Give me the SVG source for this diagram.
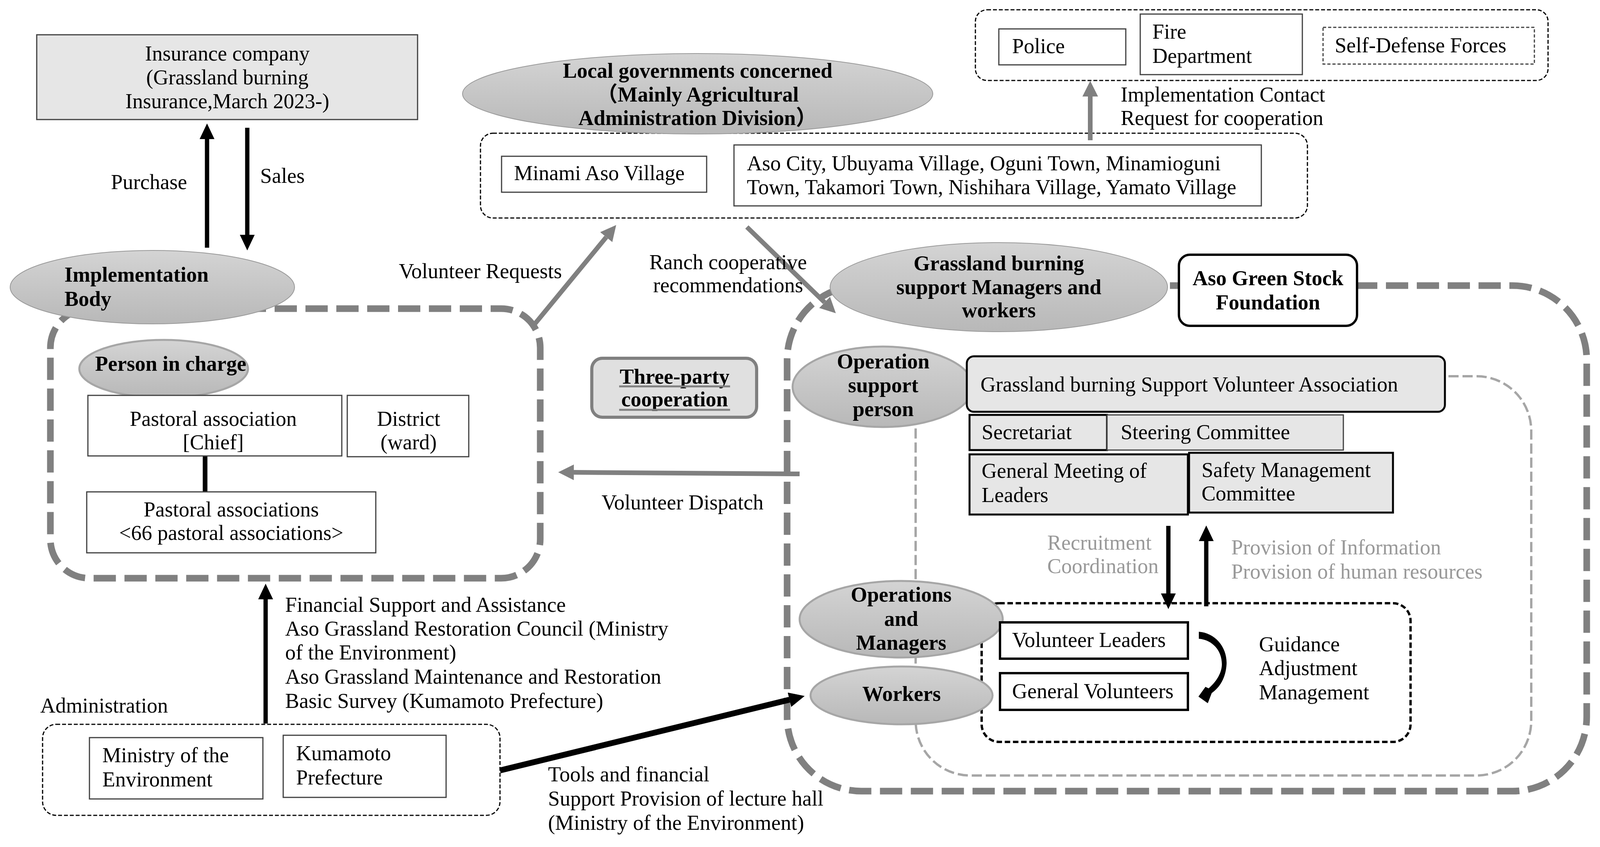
<svg xmlns="http://www.w3.org/2000/svg" width="4110" height="2168" viewBox="0 0 4110 2168">
<style>
text{font-family:"Liberation Serif","Noto Sans CJK JP",serif;font-size:54px;fill:#000}
.b{font-weight:bold}
.m{text-anchor:middle}
.g{fill:#999}
.box{fill:#fff;stroke:#404040;stroke-width:3}
.gbox{fill:#e6e6e6;stroke:#404040;stroke-width:3}
.kbox{fill:#e6e6e6;stroke:#000;stroke-width:5}
.wk{fill:#fff;stroke:#000;stroke-width:6}
.bigdash{fill:none;stroke:#808080;stroke-width:17;stroke-dasharray:57 22}
.thindash{fill:none;stroke:#000;stroke-width:3;stroke-dasharray:10 5}
.voldash{fill:none;stroke:#000;stroke-width:6;stroke-dasharray:14 7}
.lightdash{fill:none;stroke:#a6a6a6;stroke-width:6;stroke-dasharray:26 10}
.ell{fill:url(#eg);stroke:#a6a6a6;stroke-width:5}
.ell2{fill:url(#eg);stroke:#999;stroke-width:2}
.ka{stroke:#000;stroke-width:11;fill:none}
.ga{stroke:#808080;stroke-width:12;fill:none}
</style>
<defs>
<linearGradient id="eg" x1="0" y1="0" x2="0" y2="1">
<stop offset="0" stop-color="#d4d4d4"/>
<stop offset="1" stop-color="#b8b8b8"/>
</linearGradient>
<marker id="ak" markerUnits="userSpaceOnUse" markerWidth="40" markerHeight="38" refX="0" refY="19" orient="auto"><path d="M0,0 L40,19 L0,38 z" fill="#000"/></marker>
<marker id="ag" markerUnits="userSpaceOnUse" markerWidth="40" markerHeight="40" refX="0" refY="20" orient="auto"><path d="M0,0 L40,20 L0,40 z" fill="#808080"/></marker>
</defs>

<g id="containers">
<rect id="left-area" class="bigdash" x="129" y="790" width="1254" height="690" rx="100"/>
<rect id="right-area" class="bigdash" x="2015" y="731" width="2047" height="1294" rx="190"/>
<rect id="light-area" class="lightdash" x="2344" y="963" width="1576" height="1022" rx="140"/>
<rect id="municipalities" class="thindash" x="1230" y="341" width="2117" height="217" rx="32"/>
<rect id="agencies" class="thindash" x="2497" y="25" width="1466" height="181" rx="30"/>
<rect id="admin-area" class="thindash" x="109" y="1854" width="1171" height="233" rx="35"/>
<rect id="volunteer-area" class="voldash" x="2513" y="1544" width="1098" height="355" rx="45"/>
</g>

<g id="connectors">
<line class="ka" x1="530" y1="634" x2="530" y2="356" marker-end="url(#ak)"/>
<line class="ka" x1="633" y1="327" x2="633" y2="601" marker-end="url(#ak)"/>
<line class="ga" x1="1370" y1="828" x2="1552" y2="607" marker-end="url(#ag)"/>
<line class="ga" x1="1912" y1="581" x2="2111" y2="774" marker-end="url(#ag)"/>
<line class="ga" x1="2791" y1="359" x2="2791" y2="247" marker-end="url(#ag)"/>
<line class="ga" x1="2047" y1="1213" x2="1469" y2="1209" marker-end="url(#ag)"/>
<line class="ka" x1="680" y1="1852" x2="680" y2="1534" marker-end="url(#ak)"/>
<line stroke="#000" stroke-width="15" x1="1280" y1="1972" x2="2021" y2="1791" marker-end="url(#ak)"/>
<line class="ka" stroke-width="10" x1="2991" y1="1346" x2="2991" y2="1519" marker-end="url(#ak)"/>
<line class="ka" stroke-width="10" x1="3088" y1="1552" x2="3088" y2="1385" marker-end="url(#ak)"/>
<line stroke="#000" stroke-width="12" x1="525" y1="1167" x2="525" y2="1259"/>
<path d="M3069 1617 C3112 1620 3142 1658 3140 1700 C3138 1736 3122 1760 3102 1774 L3092 1800 L3068 1783 L3086 1758 L3094 1762 C3114 1745 3128 1722 3128 1700 C3128 1665 3104 1638 3069 1635 Z" fill="#000"/>
</g>

<g id="insurance">
<rect class="gbox" x="94" y="89" width="975" height="217"/>
<text class="m" x="582" y="155">Insurance company</text>
<text class="m" x="582" y="216">(Grassland burning</text>
<text class="m" x="582" y="277">Insurance,March 2023-)</text>
</g>

<g id="labels">
<text x="284" y="484">Purchase</text>
<text x="666" y="468">Sales</text>
<text x="1021" y="712">Volunteer Requests</text>
<text class="m" x="1864" y="689">Ranch cooperative</text>
<text class="m" x="1864" y="748">recommendations</text>
<text x="2869" y="260">Implementation Contact</text>
<text x="2869" y="320">Request for cooperation</text>
<text x="1540" y="1304">Volunteer Dispatch</text>
<text x="730" y="1566">Financial Support and Assistance</text>
<text x="730" y="1627">Aso Grassland Restoration Council (Ministry</text>
<text x="730" y="1688">of the Environment)</text>
<text x="730" y="1750">Aso Grassland Maintenance and Restoration</text>
<text x="730" y="1812">Basic Survey (Kumamoto Prefecture)</text>
<text x="103" y="1824">Administration</text>
<text x="1403" y="2000">Tools and financial</text>
<text x="1403" y="2062">Support Provision of lecture hall</text>
<text x="1403" y="2124">(Ministry of the Environment)</text>
<text class="g" x="2681" y="1407">Recruitment</text>
<text class="g" x="2681" y="1467">Coordination</text>
<text class="g" x="3152" y="1419">Provision of Information</text>
<text class="g" x="3152" y="1481">Provision of human resources</text>
<text x="3223" y="1667">Guidance</text>
<text x="3223" y="1728">Adjustment</text>
<text x="3223" y="1790">Management</text>
</g>

<g id="implementation-body">
<ellipse class="ell2" cx="390" cy="735" rx="364" ry="94"/>
<text class="b" x="165" y="721">Implementation</text>
<text class="b" x="165" y="783">Body</text>
</g>

<g id="person-in-charge">
<ellipse class="ell" cx="419" cy="944" rx="216" ry="74"/>
<text class="b m" x="437" y="949">Person in charge</text>
</g>

<g id="pastoral-chief">
<rect class="box" x="225" y="1012" width="650" height="155"/>
<text class="m" x="546" y="1090">Pastoral association</text>
<text class="m" x="546" y="1150">[Chief]</text>
</g>

<g id="district">
<rect class="box" x="889" y="1012" width="311" height="157"/>
<text class="m" x="1046" y="1090">District</text>
<text class="m" x="1046" y="1150">(ward)</text>
</g>

<g id="pastoral-associations">
<rect class="box" x="222" y="1259" width="740" height="156"/>
<text class="m" x="592" y="1322">Pastoral associations</text>
<text class="m" x="592" y="1382">&lt;66 pastoral associations&gt;</text>
</g>

<g id="local-governments">
<ellipse class="ell2" cx="1786" cy="240" rx="602" ry="103"/>
<text class="b m" x="1786" y="199">Local governments concerned</text>
<text class="b m" x="1786" y="260">（Mainly Agricultural</text>
<text class="b m" x="1786" y="320">Administration Division）</text>
</g>

<g id="minami-aso">
<rect class="box" x="1284" y="400" width="525" height="92"/>
<text x="1316" y="461">Minami Aso Village</text>
</g>

<g id="municipality-list">
<rect class="box" x="1879" y="371" width="1350" height="156"/>
<text x="1912" y="436">Aso City, Ubuyama Village, Oguni Town, Minamioguni</text>
<text x="1912" y="497">Town, Takamori Town, Nishihara Village, Yamato Village</text>
</g>

<g id="police">
<rect class="box" x="2557" y="74" width="325" height="92"/>
<text x="2591" y="136">Police</text>
</g>

<g id="fire-department">
<rect class="box" x="2919" y="36" width="415" height="155"/>
<text x="2950" y="99">Fire</text>
<text x="2950" y="161">Department</text>
</g>

<g id="self-defense-forces">
<rect x="3387" y="70" width="541" height="94" fill="#fff" stroke="#404040" stroke-width="3" stroke-dasharray="8 5"/>
<text x="3417" y="134">Self-Defense Forces</text>
</g>

<g id="three-party">
<rect x="1515" y="917" width="422" height="151" rx="27" fill="#e0e0e0" stroke="#808080" stroke-width="8"/>
<text class="b m" x="1727" y="982">Three-party</text>
<line x1="1585" y1="989" x2="1869" y2="989" stroke="#808080" stroke-width="5"/>
<text class="b m" x="1727" y="1040">cooperation</text>
<line x1="1585" y1="1049" x2="1869" y2="1049" stroke="#808080" stroke-width="5"/>
</g>

<g id="grassland-managers">
<ellipse class="ell2" cx="2557" cy="735" rx="432" ry="114"/>
<text class="b m" x="2557" y="692">Grassland burning</text>
<text class="b m" x="2557" y="753">support Managers and</text>
<text class="b m" x="2557" y="812">workers</text>
</g>

<g id="aso-green-stock">
<rect x="3018" y="652" width="456" height="182" rx="28" fill="#fff" stroke="#000" stroke-width="6"/>
<text class="b m" x="3246" y="730">Aso Green Stock</text>
<text class="b m" x="3246" y="792">Foundation</text>
</g>

<g id="operation-support-person">
<ellipse class="ell" cx="2260" cy="990" rx="231" ry="103"/>
<text class="b m" x="2261" y="943">Operation</text>
<text class="b m" x="2261" y="1004">support</text>
<text class="b m" x="2261" y="1065">person</text>
</g>

<g id="volunteer-association">
<rect class="kbox" x="2475" y="912" width="1224" height="142" rx="18"/>
<text x="2510" y="1002">Grassland burning Support Volunteer Association</text>
</g>

<g id="secretariat">
<rect class="kbox" x="2482" y="1062" width="352" height="90"/>
<text x="2513" y="1124">Secretariat</text>
</g>

<g id="steering-committee">
<rect class="gbox" x="2834" y="1062" width="605" height="90"/>
<text x="2869" y="1124">Steering Committee</text>
</g>

<g id="general-meeting">
<rect class="kbox" x="2482" y="1163" width="559" height="154" stroke-width="6"/>
<text x="2513" y="1223">General Meeting of</text>
<text x="2513" y="1285">Leaders</text>
</g>

<g id="safety-committee">
<rect class="kbox" x="3044" y="1159" width="522" height="153"/>
<text x="3076" y="1221">Safety Management</text>
<text x="3076" y="1281">Committee</text>
</g>

<g id="operations-managers">
<ellipse class="ell" cx="2307" cy="1585" rx="260" ry="98"/>
<text class="b m" x="2307" y="1540">Operations</text>
<text class="b m" x="2307" y="1602">and</text>
<text class="b m" x="2307" y="1663">Managers</text>
</g>

<g id="workers">
<ellipse class="ell" cx="2308" cy="1780" rx="233" ry="74"/>
<text class="b m" x="2308" y="1794">Workers</text>
</g>

<g id="volunteer-leaders">
<rect class="wk" x="2560" y="1593" width="481" height="93"/>
<text x="2591" y="1656">Volunteer Leaders</text>
</g>

<g id="general-volunteers">
<rect class="wk" x="2560" y="1723" width="481" height="94"/>
<text x="2591" y="1787">General Volunteers</text>
</g>

<g id="ministry-environment">
<rect class="box" x="229" y="1888" width="444" height="157"/>
<text x="262" y="1951">Ministry of the</text>
<text x="262" y="2013">Environment</text>
</g>

<g id="kumamoto">
<rect class="box" x="725" y="1882" width="417" height="159"/>
<text x="758" y="1946">Kumamoto</text>
<text x="758" y="2008">Prefecture</text>
</g>
</svg>
